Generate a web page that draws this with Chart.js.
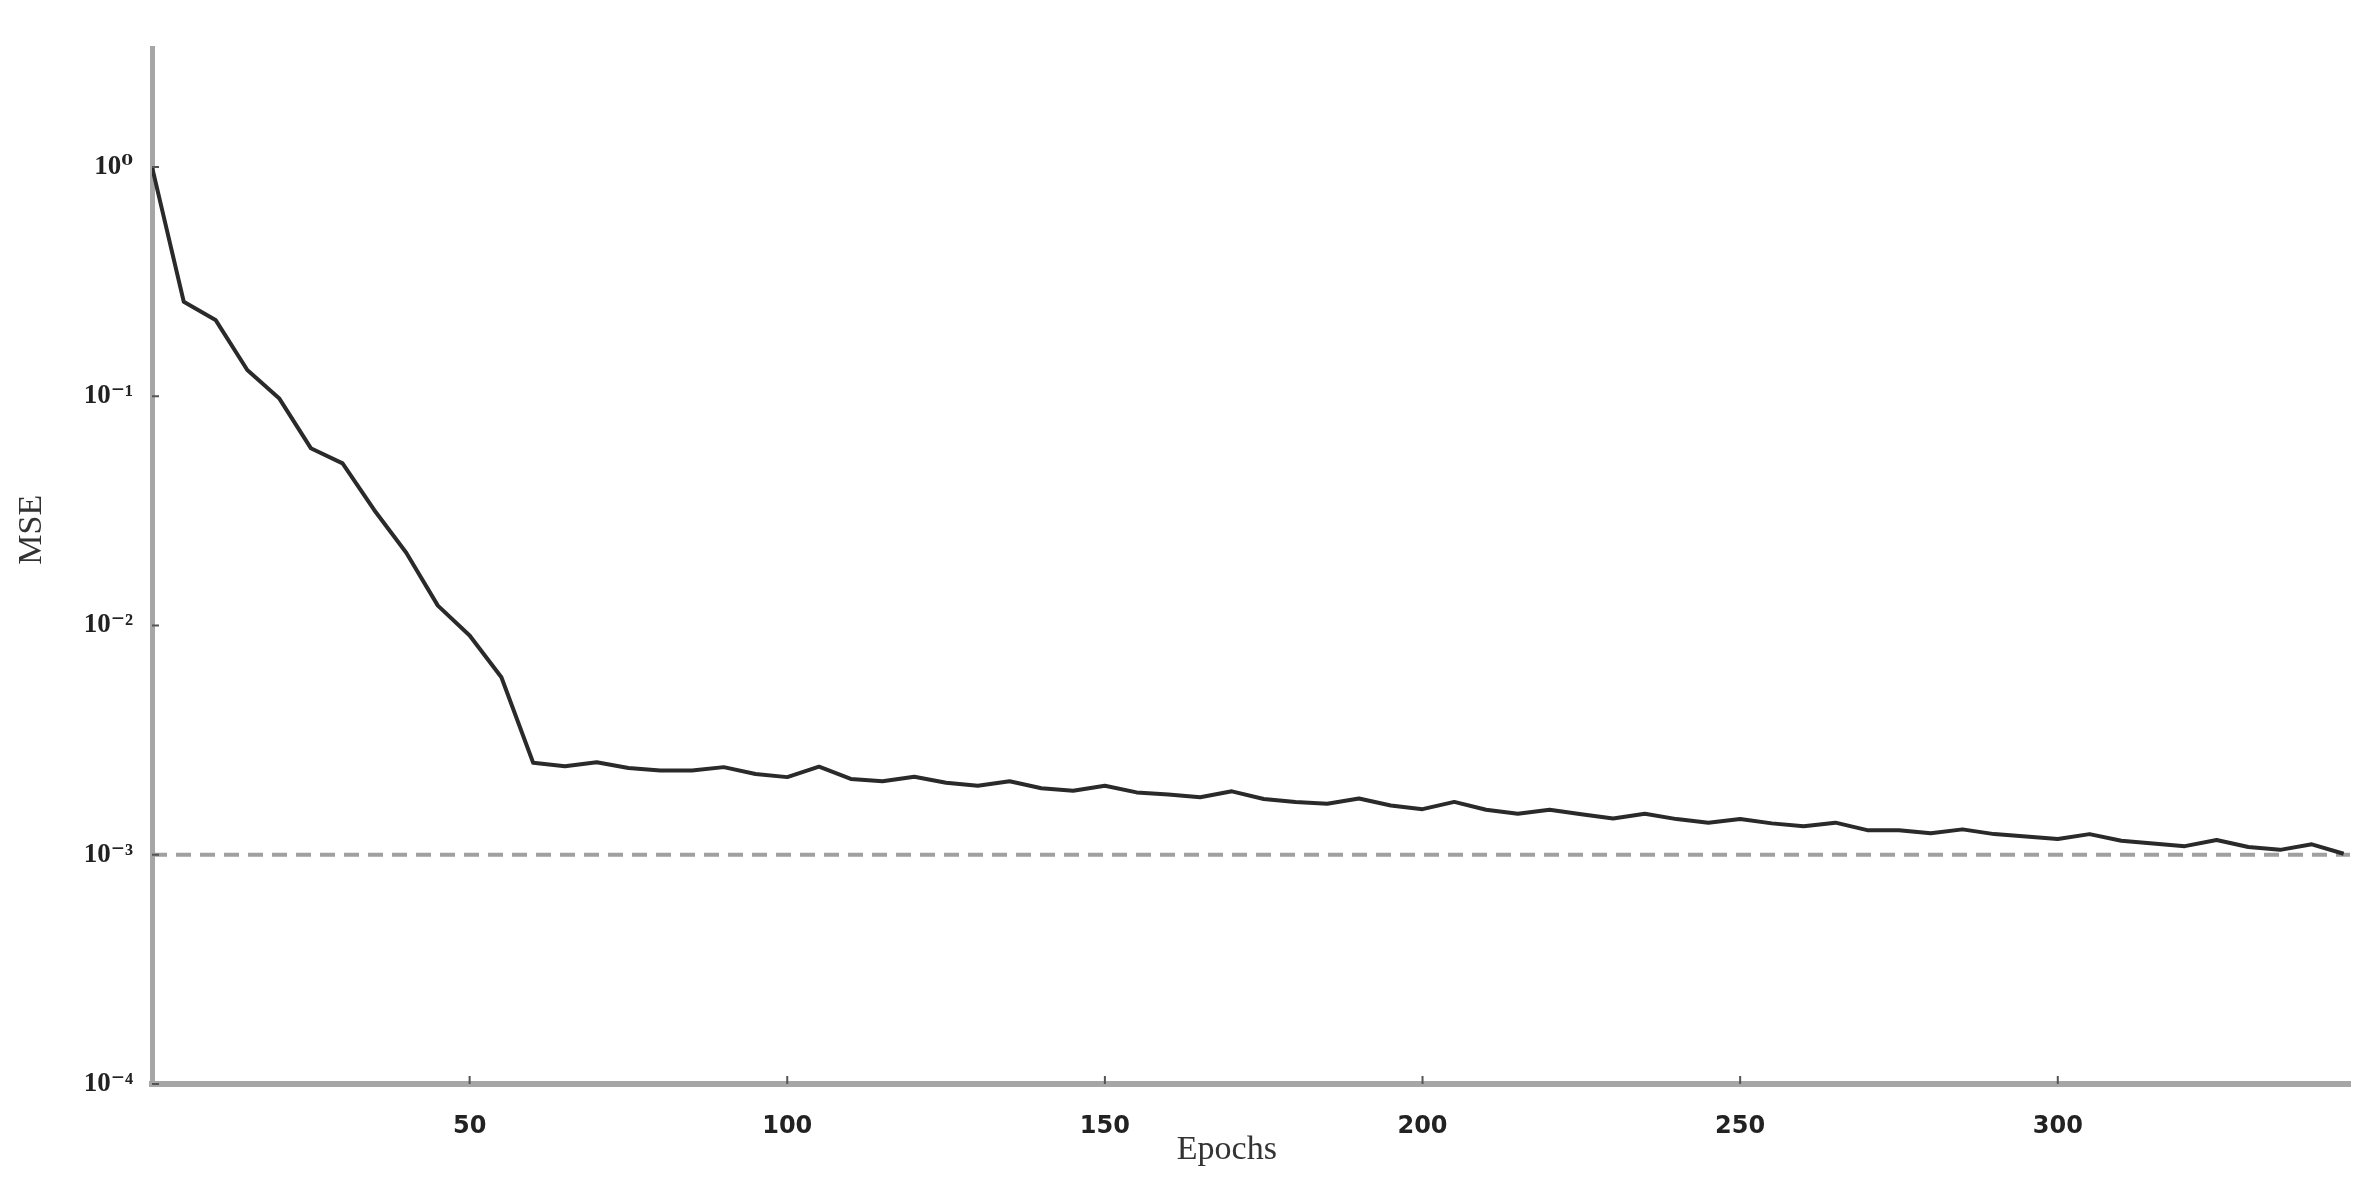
<!DOCTYPE html>
<html>
<head>
<meta charset="utf-8">
<script src="https://cdn.jsdelivr.net/npm/chart.js@4.4.1/dist/chart.umd.min.js"></script>
<style>
  html, body { margin: 0; padding: 0; background: #fff; }
  #wrap { width: 2370px; height: 1183px; position: relative; }
</style>
</head>
<body>
<div id="wrap"><canvas id="mse-chart"></canvas></div>
<script>
// Training curve (one vertex every 5 epochs)
const epochs = [
    0, 5, 10, 15, 20, 25, 30, 35, 40, 45,
    50, 55, 60, 65, 70, 75, 80, 85, 90, 95,
    100, 105, 110, 115, 120, 125, 130, 135, 140, 145,
    150, 155, 160, 165, 170, 175, 180, 185, 190, 195,
    200, 205, 210, 215, 220, 225, 230, 235, 240, 245,
    250, 255, 260, 265, 270, 275, 280, 285, 290, 295,
    300, 305, 310, 315, 320, 325, 330, 335, 340, 345
];
const mseValues = [
    1.0, 0.258, 0.215, 0.130, 0.098, 0.0593, 0.0509, 0.0318, 0.0208, 0.0122,
    0.00904, 0.00594, 0.00252, 0.00243, 0.00253, 0.00239, 0.00233, 0.00233, 0.00241, 0.00225,
    0.00218, 0.00242, 0.00214, 0.00209, 0.00219, 0.00206, 0.00200, 0.00209, 0.00195, 0.00190,
    0.00200, 0.00187, 0.00183, 0.00178, 0.00189, 0.00175, 0.00170, 0.00167, 0.00176, 0.00164,
    0.00158, 0.00170, 0.00157, 0.00151, 0.00157, 0.00150, 0.00144, 0.00151, 0.00143, 0.00138,
    0.00143, 0.00137, 0.00133, 0.00138, 0.00128, 0.00128, 0.00124, 0.00129, 0.00123, 0.00120,
    0.00117, 0.00123, 0.00115, 0.00112, 0.00109, 0.00116, 0.00108, 0.00105, 0.00111, 0.00101
];

// Goal line
const goalEpochs = [0, 346];
const goalValues = [1e-3, 1e-3];

// Axes
const xTicks = [50, 100, 150, 200, 250, 300];
const yTicks = [1e-4, 1e-3, 1e-2, 1e-1, 1];
const yTickLabels = ['10⁻⁴', '10⁻³', '10⁻²', '10⁻¹', '10⁰'];
const xRange = [0, 346];
const yRange = [1e-4, 3.3];
const xTitle = 'Epochs';
const yTitle = 'MSE';

const AXIS_GREY = '#a6a6a6';
const TITLE_FONT = "34px 'Liberation Serif', 'Times New Roman', serif";

// small inward tick marks + axis titles placed like the original figure
const figureExtras = {
    id: 'figureExtras',
    afterDraw(chart) {
        const { ctx, chartArea, scales } = chart;
        ctx.save();
        ctx.strokeStyle = '#555';
        ctx.lineWidth = 2;
        ctx.beginPath();
        xTicks.forEach(v => {
            const px = scales.x.getPixelForValue(v);
            ctx.moveTo(px, chartArea.bottom);
            ctx.lineTo(px, chartArea.bottom - 8);
        });
        yTicks.forEach(v => {
            const py = scales.y.getPixelForValue(v);
            ctx.moveTo(chartArea.left, py);
            ctx.lineTo(chartArea.left + 7, py);
        });
        ctx.stroke();

        ctx.fillStyle = '#333';
        ctx.font = TITLE_FONT;
        ctx.textAlign = 'center';
        ctx.textBaseline = 'middle';
        // x title sits a little left of the plot centre in the source
        ctx.fillText(xTitle, chartArea.left + (chartArea.right - chartArea.left) * 0.489, chartArea.bottom + 66);
        ctx.translate(32, chartArea.top + (chartArea.bottom - chartArea.top) * 0.465);
        ctx.rotate(-Math.PI / 2);
        ctx.fillText(yTitle, 0, 0);
        ctx.restore();
    }
};

const ctx = document.getElementById('mse-chart').getContext('2d');
new Chart(ctx, {
    type: 'line',
    data: {
        datasets: [
            {
                label: 'MSE',
                data: epochs.map((e, i) => ({ x: e, y: mseValues[i] })),
                borderColor: '#2a2a2a',
                borderWidth: 4,
                borderJoinStyle: 'round',
                pointRadius: 0,
                tension: 0,
                fill: false
            },
            {
                label: 'Goal',
                data: goalEpochs.map((e, i) => ({ x: e, y: goalValues[i] })),
                borderColor: '#a0a0a0',
                borderWidth: 4,
                borderDash: [15, 9],
                pointRadius: 0,
                tension: 0,
                fill: false
            }
        ]
    },
    options: {
        responsive: true,
        maintainAspectRatio: false,
        devicePixelRatio: 1,
        animation: false,
        events: [],
        layout: { padding: { left: 0, right: 20, top: 48, bottom: 0 } },
        plugins: {
            legend: { display: false },
            tooltip: { enabled: false }
        },
        scales: {
            x: {
                type: 'linear',
                min: xRange[0],
                max: xRange[1],
                afterBuildTicks: scale => { scale.ticks = xTicks.map(v => ({ value: v })); },
                afterFit: scale => { scale.height = 99; },
                grid: { display: false, drawTicks: false },
                border: { display: true, color: AXIS_GREY, width: 6 },
                ticks: {
                    padding: 28,
                    color: '#222',
                    font: { family: "'DejaVu Sans', sans-serif", weight: 'bold', size: 24 },
                    maxRotation: 0
                }
            },
            y: {
                type: 'logarithmic',
                min: yRange[0],
                max: yRange[1],
                afterBuildTicks: scale => { scale.ticks = yTicks.map(v => ({ value: v })); },
                afterFit: scale => { scale.width = 152; },
                grid: { display: false, drawTicks: false },
                border: { display: true, color: AXIS_GREY, width: 5 },
                ticks: {
                    padding: 19,
                    color: '#222',
                    font: { family: "'Liberation Serif', 'DejaVu Serif', serif", weight: 'bold', size: 27 },
                    callback: function(value) {
                        const idx = yTicks.indexOf(value);
                        return idx >= 0 ? yTickLabels[idx] : '';
                    }
                }
            }
        }
    },
    plugins: [figureExtras]
});
</script>
</body>
</html>
